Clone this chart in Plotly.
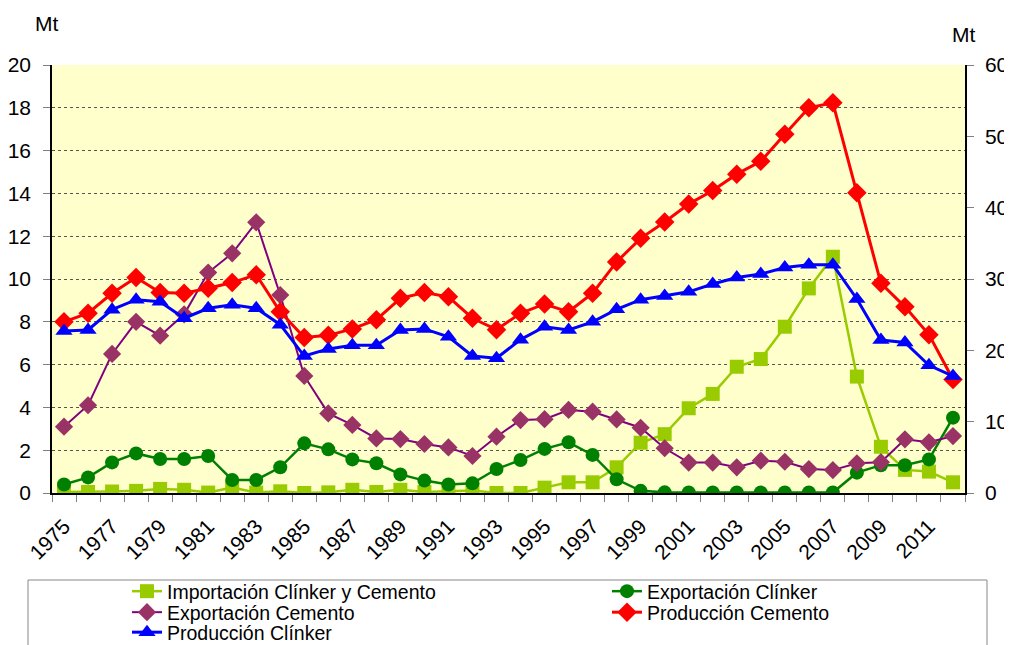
import plotly.graph_objects as go

years = list(range(1975, 2013))

# Mt, eje izquierdo
importacion = [0.05, 0.05, 0.07, 0.1, 0.19, 0.15, 0.02, 0.25, 0.02, 0.08,
               0.0, 0.03, 0.15, 0.05, 0.15, 0.05, 0.1, 0.12, 0.0, 0.0,
               0.25, 0.5, 0.5, 1.2, 2.35, 2.75, 3.96, 4.63, 5.9, 6.26,
               7.77, 9.56, 11.04, 5.44, 2.16, 1.08, 1.0, 0.5]
exp_clinker = [0.4, 0.73, 1.43, 1.85, 1.59, 1.59, 1.73, 0.61, 0.61, 1.2,
               2.32, 2.04, 1.57, 1.39, 0.87, 0.58, 0.4, 0.45, 1.12, 1.54,
               2.06, 2.37, 1.78, 0.64, 0.1, 0.03, 0.02, 0.02, 0.02, 0.02,
               0.02, 0.02, 0.02, 0.95, 1.3, 1.3, 1.57, 3.52]
exp_cemento = [3.1, 4.1, 6.5, 8.0, 7.35, 8.35, 10.3, 11.2, 12.65, 9.25,
               5.47, 3.72, 3.18, 2.55, 2.52, 2.29, 2.13, 1.73, 2.63, 3.41,
               3.45, 3.88, 3.8, 3.44, 3.05, 2.09, 1.42, 1.42, 1.2, 1.51,
               1.46, 1.12, 1.07, 1.39, 1.44, 2.51, 2.37, 2.66]

# Mt, eje derecho
prod_cemento = [24.0, 25.2, 28.0, 30.2, 28.1, 28.0, 28.7, 29.5, 30.6, 25.4,
                21.8, 22.1, 23.0, 24.3, 27.3, 28.1, 27.5, 24.5, 22.9, 25.2,
                26.5, 25.4, 28.0, 32.4, 35.7, 38.0, 40.5, 42.4, 44.7, 46.5,
                50.3, 54.0, 54.7, 42.1, 29.4, 26.1, 22.2, 15.9]
prod_clinker = [22.7, 22.85, 25.7, 27.1, 26.8, 24.5, 25.9, 26.4, 25.9, 23.6,
                19.2, 20.2, 20.7, 20.7, 22.85, 23.0, 21.9, 19.2, 18.9, 21.5,
                23.3, 22.85, 24.0, 25.75, 27.1, 27.6, 28.2, 29.3, 30.2, 30.7,
                31.6, 32.0, 32.0, 27.2, 21.45, 21.1, 17.9, 16.4]

year_labels = [str(y) for y in range(1975, 2012, 2)]

FONT = "Liberation Sans, Arial, sans-serif"
# la página añade 8 px de margen, así que la figura es algo menor que la ventana
W, H = 1004, 637

fig = go.Figure()

fig.add_trace(go.Scatter(
    x=years, y=importacion, name="Importación Clínker y Cemento", legend="legend",
    mode="lines+markers", line=dict(color="#99CC00", width=2.5),
    marker=dict(symbol="square", size=14, color="#99CC00")))
fig.add_trace(go.Scatter(
    x=years, y=exp_clinker, name="Exportación Clínker", legend="legend2",
    mode="lines+markers", line=dict(color="#008000", width=2.5),
    marker=dict(symbol="circle", size=14, color="#008000")))
fig.add_trace(go.Scatter(
    x=years, y=exp_cemento, name="Exportación Cemento", legend="legend3",
    mode="lines+markers", line=dict(color="#800080", width=2),
    marker=dict(symbol="diamond", size=14, color="#993366")))
fig.add_trace(go.Scatter(
    x=years, y=prod_cemento, name="Producción Cemento", yaxis="y2", legend="legend4",
    mode="lines+markers", line=dict(color="#FF0000", width=3),
    marker=dict(symbol="diamond", size=15, color="#FF0000")))
fig.add_trace(go.Scatter(
    x=years, y=prod_clinker, name="Producción Clínker", yaxis="y2", legend="legend5",
    mode="lines+markers", line=dict(color="#0000FF", width=3),
    marker=dict(symbol="triangle-up", size=15, color="#0000FF")))


def leyenda(x_px, top_px):
    return dict(
        xref="container", yref="container",
        x=x_px / W, xanchor="left", y=1 - top_px / H, yanchor="top",
        font=dict(family=FONT, size=19.5, color="black"),
        bgcolor="rgba(0,0,0,0)", borderwidth=0, itemclick=False,
    )


fig.update_layout(
    width=W, height=H,
    margin=dict(l=44, r=47, t=57, b=152, autoexpand=False),
    paper_bgcolor="white",
    plot_bgcolor="#FFFFCC",
    font=dict(family=FONT, size=21, color="black"),
    xaxis=dict(
        range=[1974.5, 2012.5], automargin=False,
        tickvals=list(range(1975, 2012, 2)), ticktext=year_labels,
        tickangle=-45, ticks="", showgrid=False, zeroline=False,
        showline=True, linecolor="black", linewidth=1.5,
        minor=dict(tick0=1974.5, dtick=1, ticks="outside", ticklen=7,
                   tickcolor="#808080", showgrid=False),
        ticklabelstandoff=11, tickfont=dict(size=21),
    ),
    yaxis=dict(
        range=[0, 20], dtick=2, ticks="outside", ticklen=7, tickcolor="#808080",
        showline=True, linecolor="black", linewidth=1.5, zeroline=False,
        showgrid=True, gridcolor="#555555", griddash="dot", gridwidth=1,
        ticklabelstandoff=8, tickfont=dict(size=21), automargin=False,
    ),
    yaxis2=dict(
        range=[0, 60], dtick=10, overlaying="y", side="right",
        ticks="outside", ticklen=7, tickcolor="#808080",
        showline=True, linecolor="black", linewidth=1.5, zeroline=False,
        showgrid=False, ticklabelstandoff=7, tickfont=dict(size=21), automargin=False,
    ),
    showlegend=True,
    legend=leyenda(119, 564),
    legend2=leyenda(599, 564),
    legend3=leyenda(119, 585),
    legend4=leyenda(599, 585),
    legend5=leyenda(119, 605),
    shapes=[dict(type="rect", xref="paper", yref="paper",
                 x0=-0.0263, x1=1.0241, y0=-0.45, y1=-0.2033,
                 line=dict(color="#888888", width=1), fillcolor="rgba(0,0,0,0)")],
    annotations=[
        dict(text="Mt", xref="paper", yref="paper", x=-0.0208, y=1.0958,
             xanchor="left", yanchor="middle", showarrow=False, font=dict(size=21)),
        dict(text="Mt", xref="paper", yref="paper", x=0.9989, y=1.0724,
             xanchor="center", yanchor="middle", showarrow=False, font=dict(size=21)),
    ],
)

fig.write_html("out.html")
